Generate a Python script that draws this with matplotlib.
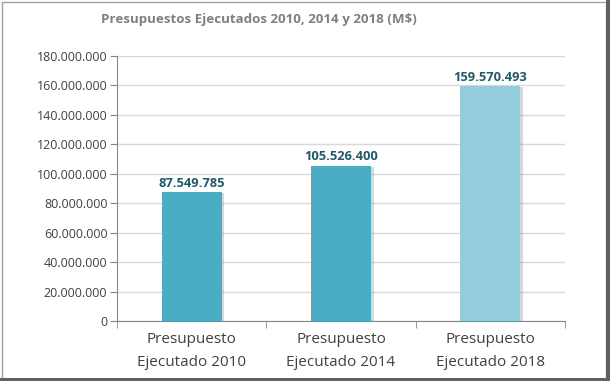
import matplotlib
matplotlib.use("Agg")
import matplotlib.pyplot as plt
import matplotlib.patheffects as pe
from matplotlib.ticker import FuncFormatter
from matplotlib.patches import Rectangle

categories = ["Presupuesto\nEjecutado 2010", "Presupuesto\nEjecutado 2014", "Presupuesto\nEjecutado 2018"]
values = [87549785, 105526400, 159570493]
bar_colors = ["#4BACC6", "#4BACC6", "#93CDDD"]
title = "Presupuestos Ejecutados 2010, 2014 y 2018 (M$)"

def fmt(v):
    return f"{int(round(v)):,}".replace(",", ".")

plt.rcParams['font.family'] = ['Open Sans', 'DejaVu Sans']

fig = plt.figure(figsize=(6.10, 3.81), dpi=100)
ax = fig.add_axes([0.192, 0.1575, 0.734, 0.6955])

x = list(range(len(categories)))
bars = ax.bar(x, values, width=0.4, color=bar_colors, zorder=3)
for b in bars:
    b.set_path_effects([pe.SimplePatchShadow(offset=(2, -1), shadow_rgbFace='#7f7f7f', alpha=0.3), pe.Normal()])

for xi, v in zip(x, values):
    ax.text(xi, v + 1.5e6, fmt(v), ha='center', va='bottom', fontsize=9.3, fontweight='bold', color='#215968')

ax.set_xlim(-0.5, 2.5)
ax.set_ylim(0, 180e6)
ax.set_yticks([i * 20e6 for i in range(10)])
ax.yaxis.set_major_formatter(FuncFormatter(lambda v, p: fmt(v)))
ax.set_xticks(x)
ax.set_xticklabels(categories, fontsize=11, color='#404040', linespacing=1.75)
ax.set_xticks([-0.5, 0.5, 1.5, 2.5], minor=True)
ax.tick_params(axis='x', which='major', length=0, pad=8)
ax.tick_params(axis='x', which='minor', length=5, color='#868686')
ax.tick_params(axis='y', length=5, color='#868686', labelsize=9, labelcolor='#404040', pad=2)

ax.grid(axis='y', color='#D9D9D9', linewidth=1, zorder=0)
for s in ['top', 'right']:
    ax.spines[s].set_visible(False)
for s in ['left', 'bottom']:
    ax.spines[s].set_color('#868686')

fig.text(0.425, 0.950, title, ha='center', va='center', fontsize=9.6, fontweight='bold', color='#808080')

# figure border
fig.patches.append(Rectangle((0.003, 0.005), 0.991, 0.99, transform=fig.transFigure,
                             fill=False, edgecolor='#a0a0a0', linewidth=1))
fig.patches.append(Rectangle((0.994, 0.0), 0.006, 1.0, transform=fig.transFigure,
                             facecolor='#606060', edgecolor='none'))
fig.patches.append(Rectangle((0.0, 0.0), 1.0, 0.007, transform=fig.transFigure,
                             facecolor='#606060', edgecolor='none'))

fig.savefig("out.png", dpi=100)
